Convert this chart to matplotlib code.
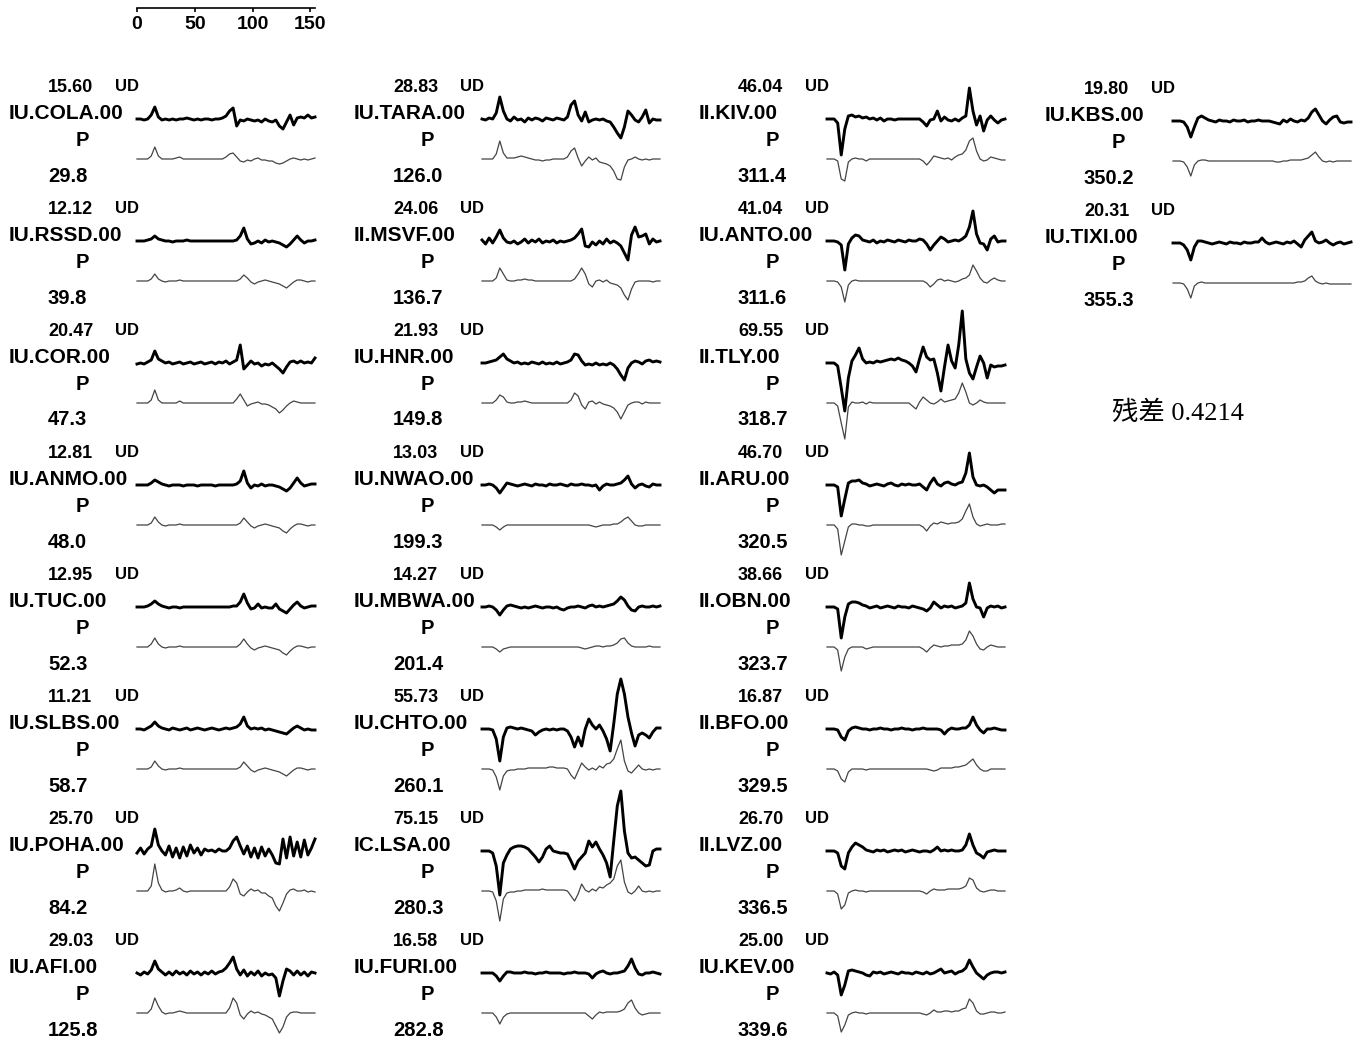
import numpy as np
import matplotlib
matplotlib.use("Agg")
import matplotlib.pyplot as plt

W, H = 1367, 1043

# station info, column by column (8 per column)
stations = ["IU.COLA.00", "IU.RSSD.00", "IU.COR.00", "IU.ANMO.00", "IU.TUC.00", "IU.SLBS.00", "IU.POHA.00", "IU.AFI.00",
            "IU.TARA.00", "II.MSVF.00", "IU.HNR.00", "IU.NWAO.00", "IU.MBWA.00", "IU.CHTO.00", "IC.LSA.00", "IU.FURI.00",
            "II.KIV.00", "IU.ANTO.00", "II.TLY.00", "II.ARU.00", "II.OBN.00", "II.BFO.00", "II.LVZ.00", "IU.KEV.00",
            "IU.KBS.00", "IU.TIXI.00"]
amps = [15.60, 12.12, 20.47, 12.81, 12.95, 11.21, 25.70, 29.03,
        28.83, 24.06, 21.93, 13.03, 14.27, 55.73, 75.15, 16.58,
        46.04, 41.04, 69.55, 46.70, 38.66, 16.87, 26.70, 25.00,
        19.80, 20.31]
azims = [29.8, 39.8, 47.3, 48.0, 52.3, 58.7, 84.2, 125.8,
         126.0, 136.7, 149.8, 199.3, 201.4, 260.1, 280.3, 282.8,
         311.4, 311.6, 318.7, 320.5, 323.7, 329.5, 336.5, 339.6,
         350.2, 355.3]
residual = 0.4214

# waveforms, 51 samples over the window (positive = up)
cola_obs = [0, 0, -1, 0, 4, 12, 2, -1, 0, -1, 0, -1, 0, 0, 1, 0, -1, 0, -1, 0, 0, -1, 0, 0, 1, 3, 8, 11, -7, -1, -2, 0, -1, -2, -1, -3, 0, -2, -3, -1, -7, -10, -3, 4, -6, 1, 2, 1, 4, 1, 2]
cola_syn = [0, 0, 0, 0, 3, 12, 3, 0, 0, 0, 0, 1, 2, 0, 0, 0, 0, 0, 0, 0, 0, 0, 0, 0, 0, 2, 5, 6, 2, -2, -3, -1, -2, 0, 1, -1, -1, -2, -2, -4, -5, -4, -2, 0, 1, 0, -1, 0, -1, 0, 1]
rssd_obs = [0, 0, 0, 1, 2, 5, 2, 1, 0, 0, -1, 0, 0, 0, 1, 0, 0, 0, 0, 0, 0, 0, 0, 0, 0, 0, 0, 0, 1, 5, 13, 2, -3, -2, 0, -2, 1, -1, 0, -1, -2, -4, -6, -3, 1, 5, 1, -2, 0, 0, 1]
rssd_syn = [0, 0, 0, 0, 2, 7, 2, 0, -1, 0, 0, 0, 1, 0, 0, 0, 0, 0, 0, 0, 0, 0, 0, 0, 0, 0, 0, 0, 0, 2, 6, 3, -1, -3, -1, 0, 1, 0, -1, -2, -3, -5, -7, -4, -1, 1, 1, 0, -1, 0, 0]
cor_obs = [-1, 0, -1, 1, 3, 12, 4, 2, 0, 1, -1, 0, 1, -1, 0, 1, -1, 0, 1, -1, 0, 1, -1, 1, 0, 2, -1, 1, 3, 18, -6, -2, 2, -1, 0, -3, -1, -2, 0, -3, -6, -10, -4, 1, 2, 0, 2, 0, 1, 0, 5]
cor_syn = [0, 0, 0, 0, 3, 13, 3, 0, 0, 0, 0, 0, 2, 0, 0, 0, 0, 0, 0, 0, 0, 0, 0, 0, 0, 0, 0, 0, 4, 9, 3, -3, -1, 0, 1, -1, -1, -2, -4, -6, -10, -7, -3, 0, 2, 1, 0, 0, 0, 0, 0]
anmo_obs = [0, 0, 0, 0, 2, 5, 3, 1, 0, -1, 0, 0, 0, -1, 0, 0, 0, -1, 0, 0, 0, 0, -1, 0, 0, 0, 0, 0, 1, 4, 14, 2, -3, 0, -1, 1, -1, 0, 0, -1, -2, -4, -6, -3, 2, 7, 2, -1, 0, 1, 1]
anmo_syn = [0, 0, 0, 0, 2, 8, 3, 0, -1, 0, 0, 0, 1, 0, 0, 0, 0, 0, 0, 0, 0, 0, 0, 0, 0, 0, 0, 0, 0, 2, 7, 3, -1, -3, -1, 0, 1, 0, -1, -2, -3, -6, -8, -4, -1, 1, 1, 0, -1, 0, 0]
tuc_obs = [0, 0, 0, 1, 3, 6, 3, 1, 0, -1, 0, 0, -1, 0, 0, 0, 0, 0, 0, 0, 0, 0, 0, 0, 0, 0, 0, 1, 1, 5, 13, 4, -2, -1, 3, -1, 0, -1, -1, 3, -2, -4, -6, -2, 2, 5, 1, -1, 0, 1, 1]
tuc_syn = [0, 0, 0, 0, 3, 9, 3, 0, -1, 0, 0, 0, 1, 0, 0, 0, 0, 0, 0, 0, 0, 0, 0, 0, 0, 0, 0, 0, 0, 3, 8, 3, -1, -3, -1, 0, 1, 0, -1, -2, -3, -6, -8, -4, -1, 1, 1, 0, -1, 0, 0]
slbs_obs = [0, 0, -1, 1, 3, 7, 3, 1, 0, -1, 1, 0, -1, 0, 1, -1, 0, 1, 0, -1, 0, 1, 0, -1, 0, 1, 0, 1, 2, 5, 12, 3, 0, 1, 0, 1, -1, 0, -1, -2, -3, -4, -5, -2, 1, 3, 1, -1, 0, -1, -1]
slbs_syn = [0, 0, 0, 0, 2, 8, 3, 0, -1, 0, 0, 0, 1, 0, 0, 0, 0, 0, 0, 0, 0, 0, 0, 0, 0, 0, 0, 0, 0, 2, 7, 3, -1, -3, -1, 0, 1, 0, -1, -2, -3, -5, -7, -4, -1, 1, 1, 0, -1, 0, 0]
poha_obs = [-2, 3, -3, 2, 5, 22, 6, 0, -4, 5, -6, 3, -7, 4, -5, 6, -2, 3, -4, 2, 0, 1, -1, 2, 0, 0, 3, 10, 14, 5, -3, 5, -6, 3, -7, 4, -5, 2, -4, -12, -13, 12, -7, 14, -5, 9, -6, 11, -4, 3, 12]
poha_syn = [0, 0, 0, 0, 5, 27, 8, 1, -1, 0, 0, 1, 3, 0, -1, 0, 0, 0, 0, 0, 0, 0, 0, 0, 0, 0, 4, 12, 8, -3, -5, -1, 2, 0, 1, -2, -2, -5, -7, -15, -20, -12, -3, 1, 2, 0, 0, 1, -1, 0, -1]
afi_obs = [0, -2, 1, -1, 3, 12, 4, 1, -2, 1, -2, 2, -1, 1, -2, 2, -1, 1, -2, 1, -1, 2, -1, 1, 2, 5, 10, 16, 4, -2, 3, -3, 1, -2, 2, -3, 0, -2, -1, -5, -23, -8, 4, 2, -2, 2, -2, 1, -3, 1, 0]
afi_syn = [0, 0, 0, 0, 4, 15, 7, 1, -1, 0, 0, 1, 2, 1, 0, 0, 0, 0, 0, 0, 0, 0, 0, 0, 0, 0, 5, 15, 10, -2, -6, -1, 2, 0, 1, -1, -2, -4, -6, -13, -20, -14, -4, 0, 1, 1, 0, 0, 0, 0, 0]

tara_obs = [0, -1, 1, 0, 6, 22, 8, 0, -2, 2, -1, 0, -3, 1, -1, 1, 0, -2, 1, 0, -1, 1, 0, -1, 2, 14, 18, 4, -2, 7, -3, -1, 0, -1, 0, -2, -3, -8, -14, -19, -8, 8, 4, -1, -3, 2, 9, -4, 0, -1, -1]
tara_syn = [0, 0, 0, 0, 5, 18, 6, 1, 1, 1, 2, 3, 2, 1, 0, -1, -1, -2, -1, -1, 0, 0, 0, 0, 2, 8, 11, 1, -7, -2, 2, -1, 1, -3, -4, -5, -7, -12, -20, -21, -8, -1, 0, 2, 0, -1, 0, -1, 0, 0, 0]
msvf_obs = [1, -3, 3, -2, 4, 11, 3, -1, -2, 0, -3, -1, 2, -2, 1, -1, 2, -2, 0, -1, 1, -2, 0, -1, 0, 1, 3, 7, 12, -5, -6, -1, -4, 0, -3, 2, -2, 0, -2, -5, -12, -19, 6, 14, 4, 5, 7, -3, 2, -1, 0]
msvf_syn = [0, 0, 0, 0, 3, 13, 7, 1, 0, 0, 1, 1, 2, 1, 1, 0, 0, 0, 0, 0, 0, 0, 0, 0, 0, 0, 2, 7, 13, 7, -3, -6, 0, 1, -1, 1, -2, -3, -4, -7, -14, -19, -8, -1, 0, 0, 0, 0, -1, 0, 0]
hnr_obs = [0, 0, 1, 2, 3, 6, 9, 4, 2, 0, 1, -1, 0, -1, 1, 0, -1, 1, -1, 0, -1, 1, -1, 0, 1, 3, 9, 8, 2, -2, -1, -2, 0, -2, -1, -2, 0, -2, -6, -12, -17, -5, 0, 2, 1, -1, 2, 3, 1, 2, 1]
hnr_syn = [0, 0, 0, 0, 3, 8, 6, 1, 0, 0, 1, 1, 2, 1, 0, 0, 0, 0, 0, 0, 0, 0, 0, 0, 0, 3, 10, 7, -2, -6, 1, 2, -1, 1, -1, -2, -3, -5, -9, -16, -9, -2, 0, 1, 1, -1, 1, 0, 0, 0, 0]
nwao_obs = [0, 0, 1, 0, -3, -8, -3, 2, 1, 0, -1, 0, 1, 0, -1, 1, 0, 0, -1, 1, 0, 0, 1, 0, -1, 1, 0, 0, 1, 0, 0, -1, 0, -5, -1, 1, 0, 0, 1, 2, 5, 9, 1, -3, 0, 1, -1, -2, 1, 0, 0]
nwao_syn = [0, 0, 0, 0, -2, -5, -2, 0, 0, 0, 0, 0, 0, 0, 0, 0, 0, 0, 0, 0, 0, 0, 0, 0, 0, 0, 0, 0, 0, 0, 0, -1, -2, -1, 0, 0, 0, 1, 1, 3, 6, 8, 4, 0, -1, -1, 0, 0, 0, 0, 0]
mbwa_obs = [0, 0, 1, 0, -3, -8, -3, 1, 2, 1, 0, -1, 0, -1, 0, 1, 0, -1, 0, 0, -1, 0, -2, -3, -1, 0, 0, 1, 0, -1, 1, 2, 0, 1, 0, 1, 2, 3, 6, 10, 7, 1, -3, -4, 0, 1, 0, 0, 1, 0, 1]
mbwa_syn = [0, 0, 0, 0, -2, -5, -2, -1, 0, 0, 0, 0, 0, 0, 0, 0, 0, 0, 0, 0, 0, 0, 0, 0, 0, 0, 0, 0, -1, -2, -1, 0, 1, 1, 0, 1, 1, 2, 4, 8, 9, 4, 1, 0, 0, 0, 0, 1, 0, 0, 0]
chto_obs = [0, 0, 0, -1, -10, -32, -8, 1, 2, 1, 0, 1, 0, -1, -2, -6, -3, -1, 0, -1, 0, -1, 0, 0, -2, -8, -18, -8, -17, 0, 10, 4, 0, 4, -2, -10, -22, 5, 35, 50, 35, 12, -4, -17, -6, -4, -6, -9, -3, 1, 1]
chto_syn = [0, 0, 0, -1, -8, -21, -7, -2, -1, -1, 0, 0, 0, 1, 1, 1, 1, 1, 1, 2, 2, 1, 1, 1, 0, -6, -10, -2, 6, 2, -1, 1, -1, 3, 1, 5, 6, 10, 20, 29, 8, -2, -4, 0, 4, 0, -1, 0, -1, 0, 0]
lsa_obs = [0, 0, 0, -2, -15, -44, -12, -4, 2, 4, 5, 5, 4, 2, -2, -6, -11, -6, 2, 5, 0, -1, -2, -2, -3, -10, -18, -10, -6, -2, 10, 4, 9, 2, -4, -12, -26, 10, 45, 60, 20, -2, -7, -6, -9, -12, -15, -14, 0, 2, 2]
lsa_syn = [0, 0, 0, -1, -10, -30, -8, -2, -1, -1, 0, 0, 1, 1, 1, 1, 1, 2, 1, 1, 1, 1, 1, 1, 0, -5, -10, -3, 7, 1, -1, 2, 0, 4, 3, 6, 8, 12, 25, 31, 9, -1, -3, 0, 5, 0, -1, 0, -1, 0, 0]
furi_obs = [0, 0, 0, 0, -3, -8, -3, 1, 1, 0, 0, 0, 1, 0, 0, -1, 0, 0, 1, 0, 0, 0, 0, -1, 0, 0, 1, 0, 0, 0, -1, -5, -1, 1, 2, 0, -1, 0, 0, 1, 2, 7, 14, 5, -1, -2, 0, 0, 1, 0, -1]
furi_syn = [0, 0, 0, 0, -4, -11, -4, -1, 0, 0, 0, 0, 0, 0, 0, 0, 0, 0, 0, 0, 0, 0, 0, 0, 0, 0, 0, 0, 0, 0, -3, -6, -2, 1, 0, 1, 1, 1, 1, 2, 4, 10, 13, 5, 0, -2, -1, 0, 0, 0, 0]

kiv_obs = [0, 0, 0, -4, -36, -10, 3, 4, 2, 3, 1, 2, 0, 1, -1, 1, -2, 0, 0, -1, 0, 0, 0, 0, 0, 0, 0, -3, -7, -1, 0, 8, -2, 2, -1, -2, 0, -2, 1, 3, 31, 8, -6, 3, -12, -1, 3, -1, -4, -1, 0]
kiv_syn = [0, 0, 0, -2, -20, -22, -3, 0, 1, 0, 0, -2, 0, 0, 0, 0, 0, 0, 0, 0, 0, 0, 0, 0, 0, 0, 0, -2, -6, -2, 3, 2, 1, 0, 1, -1, 2, 4, 5, 9, 18, 21, 8, 0, -2, -1, 2, 1, 0, -1, -1]
anto_obs = [0, 0, 0, -1, -4, -29, -3, 3, 6, 5, 1, 0, -1, 1, -2, 0, -1, 1, 0, -1, 1, 0, -1, 1, 0, 0, 2, 1, -3, -9, -4, 0, 4, 2, -1, 0, 1, 0, 2, 5, 14, 30, 7, -2, -3, -9, 2, 5, -1, 0, 0]
anto_syn = [0, 0, 0, -1, -6, -21, -4, 0, 1, 0, 0, 0, 0, 0, 0, 0, 0, 0, 0, 0, 0, 0, 0, 0, 0, 0, 0, 0, -2, -6, -3, 1, 2, 0, 1, 0, -1, 0, 2, 3, 6, 16, 10, 3, -1, -2, 1, 3, 1, 0, 0]
tly_obs = [0, 0, 0, -3, -25, -48, -15, 2, 8, 15, 4, 0, 1, 0, 2, 1, 2, 3, 4, 3, 5, 3, 2, 0, -3, -9, 4, 16, 6, 3, 4, -10, -28, -4, 18, 2, -5, 18, 52, 4, -10, -16, -4, 7, 0, -15, -2, -4, -3, -3, -2]
tly_syn = [0, 0, 0, -3, -20, -36, -4, 1, 0, 0, 1, -1, 1, 0, 0, 0, 0, 0, 0, 0, 0, 0, 0, 0, -3, -6, 1, 6, 3, 0, -1, 1, 4, 1, 2, 3, 4, 10, 20, 11, 0, -2, 0, 3, 1, 0, 0, 0, 0, 0, 0]
aru_obs = [0, 0, 0, -2, -31, -14, 2, 4, 4, 5, 2, 1, -1, 0, 1, 0, -1, 1, 2, 0, -1, 1, 0, 1, 0, 0, 1, -2, -5, 2, 7, 1, -1, 2, 3, 1, 0, 2, 3, 12, 32, 8, 0, -1, 0, -2, -5, -8, -5, -5, -5]
aru_syn = [0, 0, 0, -4, -30, -16, -2, 1, 1, 0, 0, -1, -1, 0, 0, 0, 0, 0, 0, 0, 0, 0, 0, 0, 0, 0, 0, -2, -6, -1, 2, 1, 3, 2, 1, 2, 2, 3, 6, 14, 21, 8, 1, -1, 0, 1, 0, 0, 0, 1, 1]
obn_obs = [0, 0, 0, -2, -31, -10, 3, 5, 5, 4, 2, 1, -1, 0, 1, -1, 0, 1, 0, -1, 1, 0, 0, -1, 1, 0, -1, -2, -4, -1, 5, 2, -1, 1, 0, 1, -1, 0, 1, 4, 24, 8, 0, -1, -10, -1, 1, 0, 1, -1, 0]
obn_syn = [0, 0, 0, -3, -24, -10, -2, 0, 0, 0, 0, -2, -1, 0, 0, 0, 0, 0, 0, 0, 0, 0, 0, 0, 0, 0, 0, -2, -5, -1, 2, 1, 0, 1, 1, 2, 2, 2, 3, 7, 16, 11, 3, -2, -3, 0, 2, 1, 0, 0, 0]
bfo_obs = [0, 0, 0, -1, -8, -11, -2, 1, 2, 1, 0, 0, -1, 0, 0, 1, 0, 0, -1, 0, 0, 1, 0, 0, -1, 0, 0, 1, 0, 0, 0, 0, -1, -5, -1, 1, 0, 0, 1, 1, 4, 12, 4, -1, -4, 0, 0, 1, 0, -1, -1]
bfo_syn = [0, 0, 0, -2, -10, -13, -3, 0, 0, 0, 0, -1, 0, 0, 0, 0, 0, 0, 0, 0, 0, 0, 0, 0, 0, 0, 0, 0, 0, -1, -2, -1, 1, 1, 1, 1, 2, 2, 3, 4, 7, 10, 4, 0, -2, -2, 0, 0, 0, 0, 0]
lvz_obs = [0, 0, 0, -2, -15, -18, -2, 4, 8, 6, 4, 1, 0, -1, 1, 0, 1, -1, 0, 1, 0, 1, -1, 0, 1, 0, -1, 0, 0, -1, 1, 4, 0, 1, 0, 1, 0, 0, 1, 6, 17, 6, -2, -4, -7, -1, 0, 1, 0, 0, 0]
lvz_syn = [0, 0, 0, -3, -18, -14, -2, 0, 1, 0, 0, -1, 0, 0, 0, 0, 0, 0, 0, 0, 0, 0, 0, 0, 0, 0, 0, -1, -3, 0, 2, 1, 1, 1, 2, 2, 2, 2, 3, 5, 13, 11, 3, 0, -1, 0, 1, 1, 0, 0, 0]
kev_obs = [0, -1, 1, -2, -22, -12, 2, 3, 2, 1, 0, -2, -3, 1, 0, 1, -1, 0, 1, 0, -1, 1, 0, 0, -1, 1, 0, -1, 1, -1, 0, 2, 4, 0, 1, 2, -1, 1, 2, 5, 13, 6, 0, -3, -6, -2, 0, 1, 1, 0, 1]
kev_syn = [0, 0, 0, -3, -19, -12, -2, 0, 1, 0, 0, -1, 0, 0, 0, 0, 0, 0, 0, 0, 0, 0, 0, 0, 0, 0, 0, -1, -2, 0, 3, 1, 1, 2, 2, 1, 2, 2, 4, 5, 14, 10, 2, -1, -1, 0, 1, 1, 0, 0, 1]

kbs_obs = [0, 0, 0, -1, -6, -16, -6, 3, 5, 3, 1, 0, -1, 1, 0, 0, -1, 1, 0, 0, 1, -1, 0, 0, 1, 0, 0, 0, -1, -2, -3, 1, -1, 2, 0, -1, 1, 0, 3, 9, 12, 6, 0, -3, 1, 4, 5, -1, -2, -1, -1]
kbs_syn = [0, 0, 0, -1, -6, -15, -4, 0, 1, 1, 0, 0, 0, 0, 0, 0, 0, 0, 0, 0, 0, 0, 0, 0, 0, 0, 0, 0, 0, -1, -1, 0, 0, 1, 1, 1, 1, 2, 3, 6, 9, 4, 0, -1, 0, -1, 0, 0, 0, 0, 0]
tixi_obs = [0, 0, 0, -2, -7, -17, -4, 2, 2, 1, 0, -1, 0, 1, 0, -1, 1, 0, 0, -1, 1, 0, 0, 1, 1, 5, 1, -1, 0, 1, 0, -1, 1, 0, 2, -1, -4, 3, 7, 11, 2, 0, 1, 3, 0, -2, 0, 1, -1, 0, 1]
tixi_syn = [0, 0, 0, -1, -6, -15, -3, 0, 1, 0, 0, 0, 0, 0, 0, 0, 0, 0, 0, 0, 0, 0, 0, 0, 0, 0, 0, 0, 0, 0, 0, 0, 0, 0, 0, 1, 1, 2, 5, 7, 2, 0, -1, 0, -1, -1, -1, -1, -1, -1, -1]

obs = [cola_obs, rssd_obs, cor_obs, anmo_obs, tuc_obs, slbs_obs, poha_obs, afi_obs,
       tara_obs, msvf_obs, hnr_obs, nwao_obs, mbwa_obs, chto_obs, lsa_obs, furi_obs,
       kiv_obs, anto_obs, tly_obs, aru_obs, obn_obs, bfo_obs, lvz_obs, kev_obs,
       kbs_obs, tixi_obs]
syn = [cola_syn, rssd_syn, cor_syn, anmo_syn, tuc_syn, slbs_syn, poha_syn, afi_syn,
       tara_syn, msvf_syn, hnr_syn, nwao_syn, mbwa_syn, chto_syn, lsa_syn, furi_syn,
       kiv_syn, anto_syn, tly_syn, aru_syn, obn_syn, bfo_syn, lvz_syn, kev_syn,
       kbs_syn, tixi_syn]

t = np.linspace(0, 154, 51)

plt.rcParams['font.family'] = ['Liberation Sans', 'DejaVu Sans']
fig = plt.figure(figsize=(W / 100, H / 100), dpi=100)


def fx(x):
    return x / W


def fy(y):
    return 1 - y / H


# time scale bar
sc = fig.add_axes([fx(137), fy(8), 178 / W, 0.0005])
sc.set_xlim(0, 154)
sc.set_yticks([])
for s in ["top", "left", "right"]:
    sc.spines[s].set_visible(False)
sc.spines["bottom"].set_linewidth(1.2)
sc.set_xticks([0, 50, 100, 150])
sc.tick_params(axis="x", length=3, width=1.2, pad=3, labelsize=14)
for lb in sc.get_xticklabels():
    lb.set_fontweight("bold")
sc.patch.set_visible(False)

col_x = [0, 345, 690, 1036]
col_dy = [0, 0, 0, 2]
bold = dict(fontweight="bold", color="black")

for k, name in enumerate(stations):
    c, r = divmod(k, 8)
    x0 = col_x[c]
    y0 = 85 + 122 * r + col_dy[c]
    fig.text(fx(x0 + 48), fy(y0 + 6.5), f"{amps[k]:.2f}", ha="left", va="baseline", fontsize=13, **bold)
    fig.text(fx(x0 + 115), fy(y0 + 6), "UD", ha="left", va="baseline", fontsize=12, **bold)
    fig.text(fx(x0 + 9), fy(y0 + 34), name, ha="left", va="baseline", fontsize=15, **bold)
    fig.text(fx(x0 + 82), fy(y0 + 61.5), "P", ha="center", va="baseline", fontsize=14.5, **bold)
    fig.text(fx(x0 + 48), fy(y0 + 96.5), f"{azims[k]:.1f}", ha="left", va="baseline", fontsize=14.5, **bold)

    base = y0 + 34
    ax = fig.add_axes([fx(x0 + 137), fy(base + 100), 178 / W, 160 / H])
    ax.plot(t, obs[k], color="black", lw=2.1, clip_on=False, solid_joinstyle="round")
    ax.plot(t, np.array(syn[k]) - 40, color="#444444", lw=0.9, clip_on=False)
    ax.set_xlim(0, 154)
    ax.set_ylim(-100, 60)
    ax.axis("off")

fig.text(fx(1178), fy(413), f"残差 {residual}", ha="center", va="center", fontsize=19,
         family=["Liberation Serif", "Noto Sans CJK SC"])

fig.savefig("out.png", dpi=100)
